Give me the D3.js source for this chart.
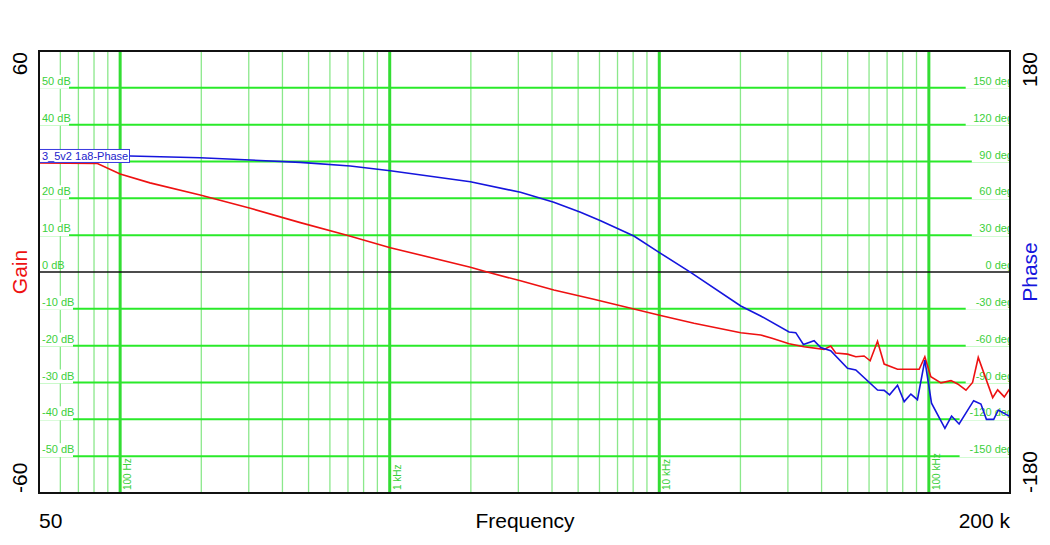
<!DOCTYPE html>
<html>
<head>
<meta charset="utf-8">
<script src="https://cdn.jsdelivr.net/npm/d3@7"></script>
<style>
  body { margin: 0; background: #fff; }
  text { font-family: Arial, "Liberation Sans", sans-serif; }
</style>
</head>
<body>
<div id="chart"></div>
<script>
// gain trace (red), frequency in Hz, gain in dB
let gainFreq = [50, 82, 100, 129, 198, 304, 466, 694, 1005, 1992, 2298, 3055, 4062, 5716,
    10113, 13450, 20060, 23780, 26200, 30300, 34430, 40840, 43250, 45140, 49920, 53580, 57530,
    60560, 64500, 68260, 76520, 87010, 92060, 96640, 101700, 110900, 120800, 127900, 137300,
    145300, 152500, 172500, 180000, 190500, 200000];
let gainDb = [29.6, 29.5, 26.6, 24.2, 20.9, 17.3, 13.4, 10.0, 6.6, 1.3, 0.0, -2.4, -4.9, -7.4,
    -11.8, -13.9, -16.5, -17.1, -18.0, -19.5, -20.3, -21.0, -20.1, -22.0, -22.3, -23.0, -22.8,
    -24.1, -18.8, -25.0, -26.4, -26.4, -26.4, -23.0, -28.4, -30.1, -29.5, -30.4, -32.1,
    -30.0, -23.2, -34.1, -32.0, -33.9, -31.6];

// phase trace (blue), degrees
let phaseFreq = [50, 109, 198, 304, 466, 714, 1005, 1992, 3055, 4062, 5103, 6057, 8049, 10113,
    13070, 20060, 23780, 30300, 32080, 34250, 37520, 39700, 43250, 49920, 53580, 64500, 68260,
    71500, 76520, 81000, 85770, 90700, 96640, 102300, 114700, 121400, 129500, 146600, 156000,
    163500, 174000, 181000, 200000];
let phaseDeg = [94.5, 94.5, 93.1, 91.2, 89.3, 86.3, 82.5, 73.5, 64.9, 56.8, 48.6, 41.8, 29.3, 15.2,
    -0.3, -27.7, -35.8, -48.9, -49.4, -59.0, -56.0, -61.5, -64.1, -78.4, -79.8, -96.1, -96.4,
    -100.0, -92.2, -105.6, -99.4, -104.0, -71.7, -106.8, -127.3, -117.3, -123.8, -104.8, -107.5,
    -120.0, -120.0, -112.4, -117.8];

let gainTicks = [50, 40, 30, 20, 10, 0, -10, -20, -30, -40, -50];
let phaseTicks = [150, 120, 90, 60, 30, 0, -30, -60, -90, -120, -150];
let decadeTicks = [100, 1000, 10000, 100000];
let decadeLabels = ["100 Hz", "1 kHz", "10 kHz", "100 kHz"];
let legendText = "3_5v2 1a8-Phase";

let margin = { top: 51, right: 40, bottom: 52, left: 39 },
    width = 1050 - margin.left - margin.right,
    height = 545 - margin.top - margin.bottom;

let svg = d3.select("#chart")
    .append("svg")
    .attr("width", 1050)
    .attr("height", 545);

let g = svg.append("g")
    .attr("transform", "translate(" + margin.left + "," + margin.top + ")");

let x = d3.scaleLog().domain([50, 200000]).range([0, width]);
let yGain = d3.scaleLinear().domain([-60, 60]).range([height, 0]);
let yPhase = d3.scaleLinear().domain([-180, 180]).range([height, 0]);

g.append("clipPath").attr("id", "plotClip")
    .append("rect").attr("width", width).attr("height", height);

let plot = g.append("g").attr("clip-path", "url(#plotClip)");

// minor vertical grid
let minorTicks = x.ticks().filter(function (d) {
    return decadeTicks.indexOf(d) < 0 && d > 50 && d < 200000;
});
plot.selectAll(".minor")
    .data(minorTicks)
    .enter()
    .append("line")
    .attr("x1", function (d) { return x(d); })
    .attr("x2", function (d) { return x(d); })
    .attr("y1", 0)
    .attr("y2", height)
    .style("stroke", "#8be88b")
    .style("stroke-width", 1.3);

// horizontal grid
plot.selectAll(".hgrid")
    .data(gainTicks.filter(function (d) { return d !== 0; }))
    .enter()
    .append("line")
    .attr("x1", 0)
    .attr("x2", width)
    .attr("y1", function (d) { return yGain(d); })
    .attr("y2", function (d) { return yGain(d); })
    .style("stroke", "#2aea2a")
    .style("stroke-width", 2);

// decade lines
plot.selectAll(".decade")
    .data(decadeTicks)
    .enter()
    .append("line")
    .attr("x1", function (d) { return x(d); })
    .attr("x2", function (d) { return x(d); })
    .attr("y1", 0)
    .attr("y2", height)
    .style("stroke", "#33dd33")
    .style("stroke-width", 3);

// zero line
plot.append("line")
    .attr("x1", 0).attr("x2", width)
    .attr("y1", yGain(0)).attr("y2", yGain(0))
    .style("stroke", "#111")
    .style("stroke-width", 1.5);

// left dB labels with white backing (30 dB sits under the legend box)
let gl = plot.selectAll(".gl")
    .data(gainTicks.filter(function (d) { return d !== 30; }))
    .enter()
    .append("g")
    .attr("transform", function (d) { return "translate(0," + yGain(d) + ")"; });
gl.append("rect")
    .attr("x", 0)
    .attr("y", -13)
    .attr("width", function (d) { return (d < 0 ? 34 : 30) + (d === 0 ? -6 : 0); })
    .attr("height", 14)
    .style("fill", function (d) { return d === 0 ? "none" : "#fff"; });
gl.append("text")
    .attr("x", 3)
    .attr("y", -3)
    .text(function (d) { return d + " dB"; })
    .attr("font-size", "11px")
    .attr("fill", "#3bd03b");

// right deg labels
let pl = plot.selectAll(".pl")
    .data(phaseTicks)
    .enter()
    .append("g")
    .attr("transform", function (d) { return "translate(" + width + "," + yPhase(d) + ")"; });
pl.append("rect")
    .attr("x", function (d) { return d === 0 ? 0 : -(String(d).length * 6.1 + 26); })
    .attr("y", -13)
    .attr("width", 60)
    .attr("height", 14)
    .style("fill", function (d) { return d === 0 ? "none" : "#fff"; });
pl.append("text")
    .attr("x", 3)
    .attr("y", -3)
    .attr("text-anchor", "end")
    .text(function (d) { return d + " deg"; })
    .attr("font-size", "11px")
    .attr("fill", "#3bd03b");

// decade labels (rotated)
plot.selectAll(".dl")
    .data(decadeTicks)
    .enter()
    .append("text")
    .attr("transform", function (d) {
        return "translate(" + (x(d) + 11) + "," + (height - 3) + ") rotate(-90)";
    })
    .text(function (d, i) { return decadeLabels[i]; })
    .attr("font-size", "10px")
    .attr("fill", "#3bd03b");

// traces
let gainLine = d3.line()
    .x(function (d, i) { return x(gainFreq[i]); })
    .y(function (d) { return yGain(d); });
let phaseLine = d3.line()
    .x(function (d, i) { return x(phaseFreq[i]); })
    .y(function (d) { return yPhase(d); });

plot.append("path")
    .attr("d", gainLine(gainDb))
    .style("fill", "none")
    .style("stroke", "#ee1111")
    .style("stroke-width", 1.6);

plot.append("path")
    .attr("d", phaseLine(phaseDeg))
    .style("fill", "none")
    .style("stroke", "#1515dd")
    .style("stroke-width", 1.6);

// legend box
let leg = plot.append("g").attr("transform", "translate(0," + (yPhase(94.5) - 6.5) + ")");
leg.append("rect")
    .attr("x", 0.5).attr("y", 0)
    .attr("width", 90).attr("height", 13)
    .style("fill", "#fff")
    .style("stroke", "#3a3ae0")
    .style("stroke-width", 1);
leg.append("text")
    .attr("x", 3).attr("y", 10.5)
    .text(legendText)
    .attr("font-size", "11px")
    .attr("fill", "#2222cc");

// frame
g.append("rect")
    .attr("width", width)
    .attr("height", height)
    .style("fill", "none")
    .style("stroke", "#111")
    .style("stroke-width", 2);

// outer axis text
function vtext(px, py, txt, anchor, color) {
    svg.append("text")
        .attr("transform", "translate(" + px + "," + py + ") rotate(-90)")
        .attr("text-anchor", anchor)
        .attr("font-size", "21px")
        .attr("fill", color)
        .text(txt);
}
vtext(27, margin.top + 1, "60", "end", "#000");
vtext(27, margin.top + height, "-60", "start", "#000");
vtext(27, margin.top + yGain(0), "Gain", "middle", "#ee1111");
vtext(1037, margin.top + 1, "180", "end", "#000");
vtext(1037, margin.top + height, "-180", "start", "#000");
vtext(1037, margin.top + yGain(0), "Phase", "middle", "#1515dd");

svg.append("text")
    .attr("x", margin.left)
    .attr("y", 528)
    .attr("font-size", "21px")
    .text("50");
svg.append("text")
    .attr("x", 525)
    .attr("y", 528)
    .attr("text-anchor", "middle")
    .attr("font-size", "21px")
    .text("Frequency");
svg.append("text")
    .attr("x", margin.left + width)
    .attr("y", 528)
    .attr("text-anchor", "end")
    .attr("font-size", "21px")
    .text("200 k");
</script>
</body>
</html>
